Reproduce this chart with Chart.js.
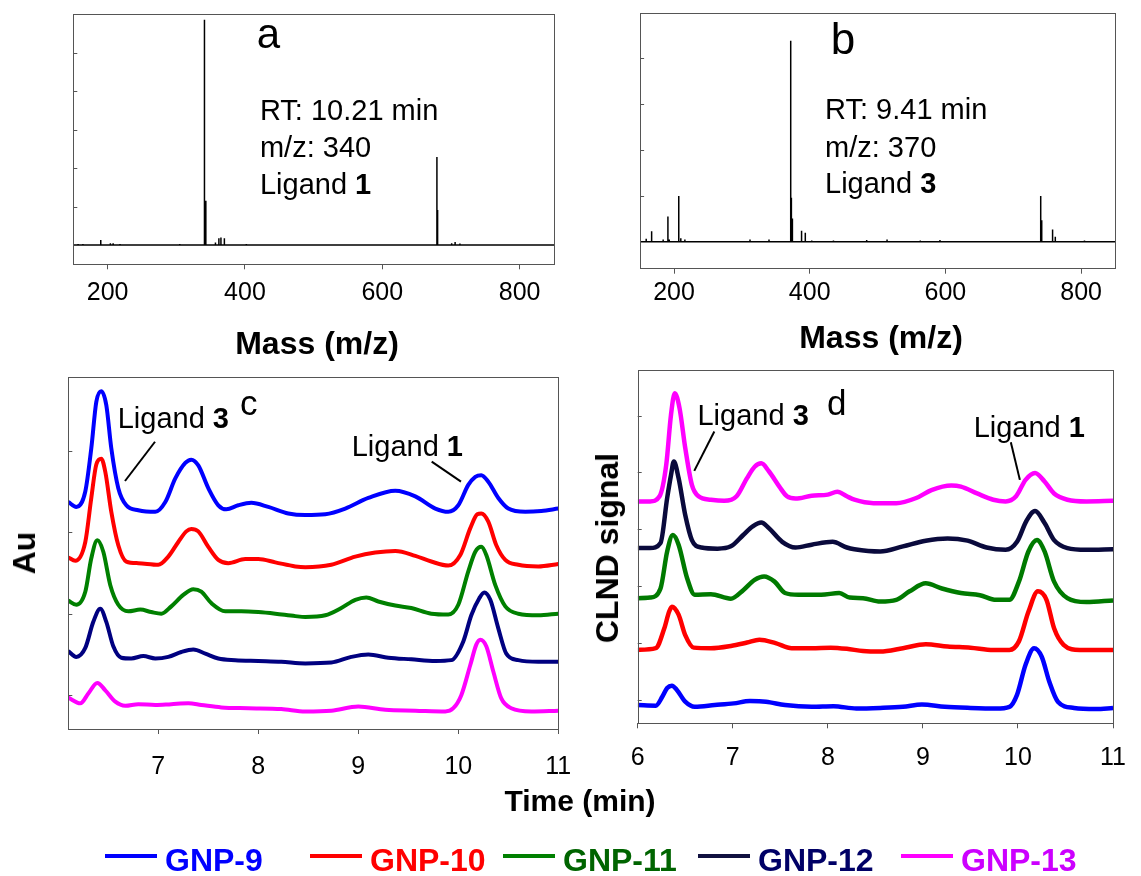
<!DOCTYPE html>
<html>
<head>
<meta charset="utf-8">
<script src="https://cdn.jsdelivr.net/npm/chart.js@4.4.0/dist/chart.umd.min.js"></script>
<style>
  html, body { margin: 0; padding: 0; background: #fff; }
  #page { position: relative; width: 1141px; height: 876px; overflow: hidden;
          font-family: "Liberation Sans", Arial, sans-serif; }
  #page canvas { position: absolute; left: 0; top: 0; }
  .lbl { position: absolute; font-weight: bold; color: #000; white-space: nowrap;
         line-height: 1; transform: translate(-50%, -50%); }
  .rot { transform: translate(-50%, -50%) rotate(-90deg); }
  .legLine { position: absolute; height: 4px; width: 52px; top: 854px; }
  .legText { position: absolute; top: 844px; font-weight: bold; font-size: 32px; line-height: 1; white-space: nowrap; }
</style>
</head>
<body>
<div id="page">
  <canvas id="ca" width="1141" height="876"></canvas>
  <canvas id="cb" width="1141" height="876"></canvas>
  <canvas id="cc" width="1141" height="876"></canvas>
  <canvas id="cd" width="1141" height="876"></canvas>
  <div class="lbl" style="left:317px;top:343px;font-size:32px">Mass (m/z)</div>
  <div class="lbl" style="left:881px;top:337px;font-size:32px">Mass (m/z)</div>
  <div class="lbl" style="left:580px;top:801px;font-size:30px">Time (min)</div>
  <div class="lbl rot" style="left:24px;top:553px;font-size:32px">Au</div>
  <div class="lbl rot" style="left:607px;top:548px;font-size:32px">CLND signal</div>
</div>
<script>
// ---- panel a / b : mass spectra (m/z, relative intensity) ----
const massTicks = [200, 400, 600, 800];
const aMz  = [157, 164, 190, 204, 208, 218, 305, 341, 343, 357, 362, 365, 370, 402, 679.5, 680.5, 701, 706, 713];
const aInt = [0.03, 0.03, 0.13, 0.05, 0.05, 0.03, 0.03, 5.86, 1.15, 0.07, 0.18, 0.2, 0.18, 0.03, 2.29, 0.91, 0.05, 0.08, 0.04];
const bMz  = [159, 167, 184, 191, 193, 207, 210, 216, 312, 340, 372, 373, 374.5, 388, 393.5, 403, 435, 484, 514, 563, 592, 740.5, 742, 758, 762, 805, 835];
const bInt = [0.07, 0.23, 0.05, 0.55, 0.05, 1.0, 0.08, 0.05, 0.05, 0.05, 4.38, 0.96, 0.51, 0.24, 0.2, 0.03, 0.03, 0.04, 0.05, 0.03, 0.04, 1.0, 0.47, 0.27, 0.11, 0.03, 0.02];

// ---- panel c : Au detector, time (min) / signal ----
const timeTicksC = [7, 8, 9, 10, 11];
const c9t  = [6.1,6.18,6.27,6.33,6.38,6.43,6.48,6.53,6.6,6.68,6.8,6.97,7.07,7.17,7.27,7.33,7.4,7.5,7.6,7.68,7.8,7.93,8.1,8.3,8.47,8.67,8.87,9.1,9.37,9.57,9.77,9.9,10.0,10.1,10.17,10.23,10.3,10.4,10.5,10.67,10.83,11.0];
const c9y  = [237,231,250,303,360,373,356,303,254,233,227,225,237,266,285,289,282,254,233,228,233,236,231,223,221,222,229,242,251,244,229,225,233,258,268,270,262,242,229,225,226,229];
const c10t = [6.1,6.17,6.27,6.33,6.38,6.43,6.47,6.53,6.6,6.68,6.8,7.0,7.1,7.2,7.28,7.33,7.4,7.5,7.6,7.7,7.87,8.0,8.17,8.37,8.47,8.73,8.97,9.17,9.37,9.57,9.73,9.9,10.02,10.12,10.19,10.23,10.3,10.38,10.47,10.6,10.8,11.0];
const c10y = [169,165,188,242,283,290,274,225,184,164,162,160,170,188,201,204,201,182,166,162,167,167,163,158,157,160,170,175,177,171,164,159,172,205,222,223,213,184,166,160,158,161];
const c11t = [6.1,6.18,6.27,6.33,6.39,6.45,6.52,6.6,6.7,6.82,6.93,7.03,7.13,7.25,7.35,7.43,7.53,7.67,7.83,8.0,8.17,8.37,8.47,8.67,8.83,8.97,9.08,9.2,9.37,9.53,9.73,9.9,10.0,10.1,10.17,10.23,10.28,10.37,10.47,10.6,10.8,11.0];
const c11y = [116,111,127,168,190,176,135,111,103,105,102,100,109,123,130,127,113,103,103,102,100,97,96,98,107,117,120,115,110,107,100,99,111,152,176,182,172,135,109,100,98,100];
const c12t = [6.1,6.18,6.27,6.35,6.42,6.48,6.55,6.63,6.73,6.85,6.97,7.1,7.23,7.35,7.47,7.6,7.77,8.0,8.23,8.47,8.73,8.93,9.1,9.3,9.53,9.77,9.93,10.05,10.13,10.21,10.26,10.32,10.4,10.48,10.6,10.8,11.0];
const c12y = [54,47,58,90,106,90,60,46,45,48,45,47,53,56,51,45,43,42,41,39,40,47,50,46,44,42,43,66,98,119,126,117,82,51,43,41,41];
const c13t = [6.1,6.22,6.3,6.39,6.47,6.57,6.67,6.8,6.97,7.13,7.3,7.43,7.63,7.9,8.23,8.47,8.73,9.0,9.27,9.57,9.87,9.95,10.03,10.12,10.18,10.22,10.28,10.35,10.43,10.53,10.73,11.0];
const c13y = [-3,-10,2,15,6,-8,-13,-11,-12,-11,-10,-12,-15,-16,-17,-20,-19,-14,-18,-19,-20,-16,0,37,62,68,60,29,-4,-16,-20,-19];

// ---- panel d : CLND signal ----
const timeTicksD = [6, 7, 8, 9, 10, 11];
const d9t  = [6.0,6.19,6.26,6.31,6.36,6.41,6.5,6.6,6.81,7.01,7.18,7.35,7.55,7.83,8.06,8.3,8.55,8.79,8.99,9.23,9.5,9.77,9.91,9.99,10.08,10.17,10.25,10.33,10.42,10.59,10.82,11.0];
const d9y  = [-9,-10,6,21,25,18,-3,-12,-9,-6,-2,-3,-9,-12,-11,-15,-14,-12,-8,-12,-14,-15,-12,9,62,91,76,32,-3,-14,-16,-14];
const d10t = [6.0,6.19,6.28,6.33,6.36,6.43,6.5,6.59,6.77,6.98,7.15,7.28,7.45,7.62,7.83,8.03,8.2,8.37,8.55,8.79,9.03,9.26,9.5,9.74,9.91,10.01,10.11,10.21,10.3,10.38,10.48,10.65,11.0];
const d10y = [88,91,126,155,164,150,114,92,91,95,101,106,100,91,91,92,90,86,85,91,98,94,92,88,88,103,155,191,176,126,97,88,88];
const d11t = [6.0,6.13,6.24,6.31,6.37,6.43,6.52,6.6,6.77,6.98,7.11,7.23,7.33,7.44,7.55,7.69,7.93,8.12,8.23,8.37,8.55,8.72,8.86,9.03,9.2,9.4,9.6,9.77,9.91,10.01,10.11,10.2,10.28,10.38,10.52,10.72,11.0];
const d11y = [179,180,196,261,290,273,214,185,186,178,193,211,217,208,188,185,185,188,180,179,173,176,191,205,196,188,184,176,176,208,261,281,261,208,179,172,175];
const d12t = [6.0,6.13,6.24,6.31,6.35,6.38,6.43,6.5,6.57,6.67,6.84,6.98,7.11,7.21,7.3,7.38,7.52,7.66,7.83,8.05,8.2,8.28,8.55,8.79,9.03,9.26,9.47,9.67,9.87,9.99,10.09,10.18,10.28,10.38,10.52,10.72,11.0];
const d12y = [267,267,276,355,395,419,390,325,281,268,266,270,290,305,312,302,278,268,273,278,268,265,261,270,280,284,280,268,264,278,315,332,311,281,267,264,265];
const d13t = [6.0,6.13,6.23,6.3,6.35,6.39,6.44,6.5,6.57,6.64,6.77,6.91,7.04,7.15,7.23,7.3,7.38,7.49,7.57,7.66,7.83,8.0,8.1,8.2,8.28,8.48,8.72,8.93,9.09,9.3,9.4,9.57,9.74,9.87,9.98,10.08,10.18,10.28,10.38,10.52,10.72,11.0];
const d13y = [349,349,358,413,501,539,513,443,378,358,352,350,358,390,410,416,402,375,358,354,359,361,366,358,352,346,346,355,369,377,375,363,352,349,358,387,399,384,363,352,349,350];

const names = ['GNP-9', 'GNP-10', 'GNP-11', 'GNP-12', 'GNP-13'];
const lineColC = ['#0000ff', '#ff0000', '#008000', '#000080', '#ff00ff'];
const lineColD = ['#0000ff', '#ff0000', '#007a00', '#0a0a3c', '#ff00ff'];
const legLineCol = ['#0000ff', '#ff0000', '#008000', '#111140', '#ff00ff'];
const legTextCol = ['#0000ff', '#ff0000', '#006400', '#000066', '#cc00ff'];
const legLeft = [105, 310, 503, 698, 901];

Chart.defaults.font.family = '"Liberation Sans", Arial, sans-serif';
Chart.defaults.color = '#000';

const pts = (t, y) => t.map((v, i) => ({ x: v, y: y[i] }));
function spikes(mz, inten, lo, hi) {
  const out = [{ x: lo, y: 0 }];
  mz.forEach((m, i) => { out.push({ x: m, y: 0 }, { x: m, y: inten[i] }, { x: m, y: 0 }); });
  out.push({ x: hi, y: 0 });
  return out;
}

// frame box, inward y ticks, text notes and leader lines
const decor = {
  id: 'decor',
  afterDatasetsDraw(chart, args, o) {
    const { ctx, chartArea: a, scales } = chart;
    const sx = scales.x, sy = scales.y;
    ctx.save();
    ctx.strokeStyle = '#555';
    ctx.lineWidth = 1;
    ctx.strokeRect(Math.round(a.left) + 0.5, Math.round(a.top) + 0.5, Math.round(a.right - a.left), Math.round(a.bottom - a.top));
    (o.yTicks || []).forEach(v => {
      const y = Math.round(sy.getPixelForValue(v)) + 0.5;
      ctx.beginPath(); ctx.moveTo(a.left, y); ctx.lineTo(a.left + 4, y); ctx.stroke();
    });
    ctx.strokeStyle = '#000';
    ctx.lineWidth = 2;
    (o.lines || []).forEach(l => {
      ctx.beginPath();
      ctx.moveTo(sx.getPixelForValue(l[0]), sy.getPixelForValue(l[1]));
      ctx.lineTo(sx.getPixelForValue(l[2]), sy.getPixelForValue(l[3]));
      ctx.stroke();
    });
    ctx.fillStyle = '#000';
    ctx.textBaseline = 'alphabetic';
    ctx.textAlign = 'left';
    (o.texts || []).forEach(t => {
      let x = sx.getPixelForValue(t.x);
      const y = sy.getPixelForValue(t.y);
      t.parts.forEach(p => {
        ctx.font = (p[1] ? 'bold ' : '') + (t.size || 29) + 'px "Liberation Sans", Arial, sans-serif';
        ctx.fillText(p[0], x, y);
        x += ctx.measureText(p[0]).width;
      });
    });
    ctx.restore();
  }
};

function makeChart(id, area, xr, ticks, tickPad, yr, datasets, deco) {
  return new Chart(document.getElementById(id), {
    type: 'line',
    data: { datasets },
    plugins: [decor],
    options: {
      responsive: false,
      animation: false,
      devicePixelRatio: 1,
      layout: { padding: { left: area[0], top: area[2], right: 1141 - area[1], bottom: 876 - area[3] - 50 } },
      elements: { point: { radius: 0 } },
      scales: {
        x: {
          type: 'linear', min: xr[0], max: xr[1],
          afterBuildTicks: s => { s.ticks = ticks.map(v => ({ value: v })); },
          afterFit: s => { s.height = 50; },
          ticks: { font: { size: 25 }, color: '#000', padding: tickPad, maxRotation: 0, autoSkip: false, callback: v => String(v) },
          grid: { drawOnChartArea: false, drawTicks: true, tickLength: 5, color: '#555' },
          border: { display: false }
        },
        y: { type: 'linear', display: false, min: yr[0], max: yr[1] }
      },
      plugins: { legend: { display: false }, tooltip: { enabled: false }, decor: deco }
    }
  });
}

function spec(mz, inten) {
  return [{ data: spikes(mz, inten, 150, 850), borderColor: '#000', borderWidth: 1.5, tension: 0, borderJoinStyle: 'bevel' }];
}

makeChart('ca', [73.3, 554, 14.3, 264.3], [150, 850], massTicks, 9, [-0.5, 6], spec(aMz, aInt), {
  yTicks: [1, 2, 3, 4, 5],
  texts: [
    { x: 417, y: 5.13, size: 42, parts: [['a', false]] },
    { x: 421.8, y: 3.25, parts: [['RT: 10.21 min', false]] },
    { x: 421.8, y: 2.28, parts: [['m/z: 340', false]] },
    { x: 421.8, y: 1.32, parts: [['Ligand ', false], ['1', true]] }
  ]
});

makeChart('cb', [640.1, 1115, 13.3, 268.7], [150, 850], massTicks, 4, [-0.585, 4.98], spec(bMz, bInt), {
  yTicks: [1, 2, 3, 4],
  texts: [
    { x: 431, y: 4.09, size: 44, parts: [['b', false]] },
    { x: 422.6, y: 2.68, parts: [['RT: 9.41 min', false]] },
    { x: 422.6, y: 1.85, parts: [['m/z: 370', false]] },
    { x: 422.6, y: 1.07, parts: [['Ligand ', false], ['3', true]] }
  ]
});

function traces(ts, ys, cols, w) {
  return ts.map((t, i) => ({
    label: names[i], data: pts(t, ys[i]), borderColor: cols[i], borderWidth: w,
    cubicInterpolationMode: 'monotone', fill: false
  }));
}

makeChart('cc', [68.3, 558.3, 376.7, 729], [6.1, 11], timeTicksC, 18, [-41.5, 390.8],
  traces([c9t, c10t, c11t, c12t, c13t], [c9y, c10y, c11y, c12y, c13y], lineColC, 4), {
  yTicks: [0, 100, 200, 300],
  lines: [[6.967, 311, 6.667, 262.8], [9.734, 286.5, 10.027, 262]],
  texts: [
    { x: 6.594, y: 328.2, parts: [['Ligand ', false], ['3', true]] },
    { x: 7.817, y: 343.8, size: 35, parts: [['c', false]] },
    { x: 8.934, y: 293.9, parts: [['Ligand ', false], ['1', true]] }
  ]
});

makeChart('cd', [637.7, 1127.7, 370, 723.3], [6, 11], timeTicksD, 15, [-41, 580],
  traces([d9t, d10t, d11t, d12t, d13t], [d9y, d10y, d11y, d12y, d13y], lineColD, 4.5), {
  yTicks: [0, 100, 200, 300, 400, 500],
  lines: [[6.806, 471.9, 6.595, 402.7], [9.925, 453.1, 10.02, 386.9]],
  texts: [
    { x: 6.629, y: 483.6, parts: [['Ligand ', false], ['3', true]] },
    { x: 7.99, y: 501, size: 35, parts: [['d', false]] },
    { x: 9.534, y: 463, parts: [['Ligand ', false], ['1', true]] }
  ]
});

// legend row
const page = document.getElementById('page');
names.forEach((n, i) => {
  const ln = document.createElement('div');
  ln.className = 'legLine';
  ln.style.left = legLeft[i] + 'px';
  ln.style.background = legLineCol[i];
  page.appendChild(ln);
  const tx = document.createElement('div');
  tx.className = 'legText';
  tx.style.left = (legLeft[i] + 60) + 'px';
  tx.style.color = legTextCol[i];
  tx.textContent = n;
  page.appendChild(tx);
});
</script>
</body>
</html>
